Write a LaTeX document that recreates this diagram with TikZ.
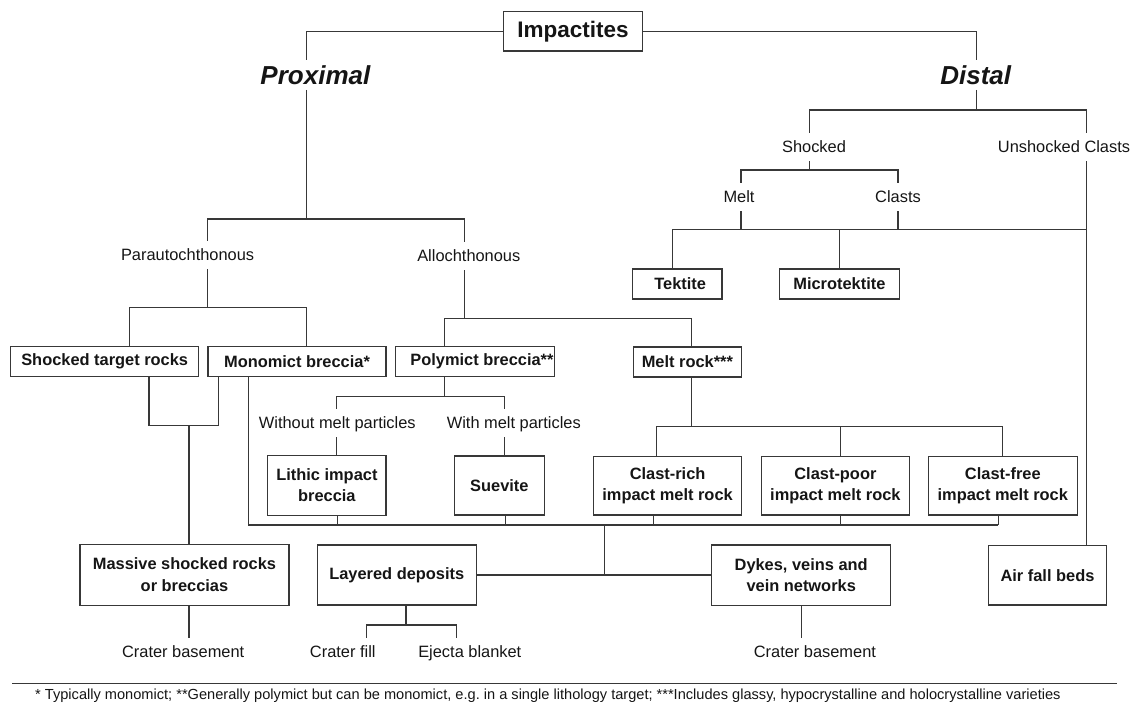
\documentclass[tikz,border=0pt]{standalone}
\usepackage{fontspec}
\setmainfont{Liberation Sans}
\definecolor{ln}{HTML}{383838}
\definecolor{tx}{HTML}{151515}
\begin{document}
\begin{tikzpicture}[x=1pt,y=-1pt,
  box/.style={draw=ln, line width=1.1pt, inner sep=0pt, align=center, text=tx,
    font=\fontsize{16.4}{21.5}\selectfont\bfseries},
  lbl/.style={inner xsep=1pt, inner ysep=8pt, text height=11.8pt, text depth=0pt,
    text=tx, font=\fontsize{16.4}{20}\selectfont},
  big/.style={inner xsep=1pt, inner ysep=5.5pt, text height=18.6pt, text depth=0pt,
    text=tx, font=\fontsize{26}{30}\selectfont\bfseries\itshape},
  link/.style={draw=ln, line width=1.1pt}]
\useasboundingbox (0,0) rectangle (1133,708);

% ---------- boxes ----------
\node[box, minimum width=138.7pt, minimum height=39.3pt, font=\fontsize{22.5}{26}\selectfont\bfseries] (imp) at (572.9,31.4) {Impactites};
\node[box, minimum width=187.6pt, minimum height=30pt] (str) at (104.7,361.7) {Shocked target rocks};
\node[box, minimum width=178pt, minimum height=30pt] (mono) at (297,361.7) {Monomict breccia*};
\node[box, minimum width=158.5pt, minimum height=30pt] (poly) at (475,361.7) {\makebox[157pt][r]{Polymict breccia**}};
\node[box, minimum width=108.5pt, minimum height=30pt] (melt) at (687.4,362) {Melt rock***};
\node[box, minimum width=89.5pt, minimum height=30pt] (tek) at (677.2,284) {\hspace*{6pt}Tektite};
\node[box, minimum width=119.5pt, minimum height=30pt] (micro) at (839.4,284) {Microtektite};
\node[box, minimum width=118.2pt, minimum height=59.5pt] (lith) at (326.9,485.3) {Lithic impact\\breccia};
\node[box, minimum width=89.7pt, minimum height=59pt] (suev) at (499.4,485.5) {Suevite};
\node[box, minimum width=148pt, minimum height=58.3pt] (crich) at (667.6,485.8) {Clast-rich\\impact melt rock};
\node[box, minimum width=148.7pt, minimum height=58.3pt] (cpoor) at (835.4,485.8) {Clast-poor\\impact melt rock};
\node[box, minimum width=148.8pt, minimum height=58.3pt] (cfree) at (1002.8,485.8) {Clast-free\\impact melt rock};
\node[box, minimum width=209pt, minimum height=60.7pt] (mass) at (184.5,574.7) {Massive shocked rocks\\or breccias};
\node[box, minimum width=158.9pt, minimum height=60pt] (layer) at (396.8,575) {Layered deposits};
\node[box, minimum width=179pt, minimum height=60.7pt] (dykes) at (801.2,575.3) {Dykes, veins and\\vein networks};
\node[box, minimum width=118.5pt, minimum height=59.3pt] (air) at (1047.5,575.3) {Air fall beds};

% ---------- labels ----------
\node[big] (prox) at (315.4,75) {Proximal};
\node[big] (dist) at (975.7,75) {Distal};
\node[lbl] (para) at (187.6,255) {Parautochthonous};
\node[lbl] (allo) at (468.8,256) {Allochthonous};
\node[lbl] (shk) at (814,147) {Shocked};
\node[lbl] (unsh) at (1064,147) {Unshocked Clasts};
\node[lbl] (meltl) at (739,197) {Melt};
\node[lbl] (clasts) at (898,197) {Clasts};
\node[lbl] (wo) at (337.3,423) {Without melt particles};
\node[lbl] (wi) at (513.8,423) {With melt particles};
\node[lbl] (cb1) at (183.2,651.7) {Crater basement};
\node[lbl] (cfill) at (342.8,651.7) {Crater fill};
\node[lbl] (ejecta) at (469.8,651.7) {Ejecta blanket};
\node[lbl] (cb2) at (814.9,651.7) {Crater basement};

% ---------- junction coordinates ----------
\coordinate (cP) at (306.4,219);
\coordinate (cPa) at (207.6,219);
\coordinate (cAl) at (464.5,219);
\coordinate (cPa2) at (207.6,307.3);
\coordinate (cS1) at (129.8,307.3);
\coordinate (cM1) at (306.4,307.3);
\coordinate (cAl2) at (464.5,318.3);
\coordinate (cPo1) at (444.5,318.3);
\coordinate (cMe1) at (691.6,318.3);
\coordinate (cPo2) at (444.8,396.3);
\coordinate (cWo) at (336.5,396.3);
\coordinate (cWi) at (504.3,396.3);
\coordinate (cMe2) at (691.6,426.7);
\coordinate (cR1) at (656.8,426.7);
\coordinate (cR2) at (840.6,426.7);
\coordinate (cR3) at (1002.9,426.7);
\coordinate (cS2) at (149,425.8);
\coordinate (cM2) at (218.2,425.8);
\coordinate (cS3) at (189,425.8);
\coordinate (cL0) at (248.3,525);
\coordinate (cL1) at (337.3,525);
\coordinate (cL2) at (505.3,525);
\coordinate (cL3) at (653.2,525);
\coordinate (cL4) at (840.6,525);
\coordinate (cL5) at (998.4,525);
\coordinate (cJ) at (604.6,525);
\coordinate (cD) at (976.6,110);
\coordinate (cSh) at (809.6,110);
\coordinate (cUn) at (1086.5,110);
\coordinate (cSh2) at (809.6,170);
\coordinate (cMl) at (741,170);
\coordinate (cCl) at (898,170);
\coordinate (cMl2) at (741,229.5);
\coordinate (cCl2) at (898,229.5);
\coordinate (cT) at (672.6,229.5);
\coordinate (cMi) at (839.6,229.5);
\coordinate (cU2) at (1086.5,229.5);
\coordinate (cB1) at (189,630);
\coordinate (cLa) at (406,625);
\coordinate (cF) at (366.4,625);
\coordinate (cE) at (456.2,625);
\coordinate (fnL) at (12,683.3);
\coordinate (fnR) at (1116.7,683.3);

% ---------- connectors ----------
\draw[link] (imp.west) -| (cP |- prox.north);
\draw[link] (imp.east) -| (cD |- dist.north);
\draw[link] (cP |- prox.south) -- (cP);
\draw[link] (cPa |- para.north) -- (cPa) -- (cAl) -- (cAl |- allo.north);
\draw[link] (cPa2 |- para.south) -- (cPa2);
\draw[link] (cS1 |- str.north) -- (cS1) -- (cM1) -- (cM1 |- mono.north);
\draw[link] (cAl2 |- allo.south) -- (cAl2);
\draw[link] (cPo1 |- poly.north) -- (cPo1) -- (cMe1) -- (cMe1 |- melt.north);
\draw[link] (cPo2 |- poly.south) -- (cPo2);
\draw[link] (cWo |- wo.north) -- (cWo) -- (cWi) -- (cWi |- wi.north);
\draw[link] (cWo |- wo.south) -- (cWo |- lith.north);
\draw[link] (cWi |- wi.south) -- (cWi |- suev.north);
\draw[link] (cMe2 |- melt.south) -- (cMe2);
\draw[link] (cR1 |- crich.north) -- (cR1) -- (cR3) -- (cR3 |- cfree.north);
\draw[link] (cR2) -- (cR2 |- cpoor.north);
\draw[link] (cS2 |- str.south) -- (cS2) -- (cM2) -- (cM2 |- mono.south);
\draw[link] (cS3) -- (cS3 |- mass.north);
\draw[link] (cL0 |- mono.south) -- (cL0) -- (cL5);
\draw[link] (cL1 |- lith.south) -- (cL1);
\draw[link] (cL2 |- suev.south) -- (cL2);
\draw[link] (cL3 |- crich.south) -- (cL3);
\draw[link] (cL4 |- cpoor.south) -- (cL4);
\draw[link] (cL5 |- cfree.south) -- (cL5);
\draw[link] (cJ) -- (cJ |- layer.east);
\draw[link] (layer.east) -- (layer.east -| dykes.west);
\draw[link] (cD |- dist.south) -- (cD);
\draw[link] (cSh |- shk.north) -- (cSh) -- (cUn) -- (cUn |- unsh.north);
\draw[link] (cUn |- unsh.south) -- (cUn |- air.north);
\draw[link] (cSh |- shk.south) -- (cSh2);
\draw[link] (cMl |- meltl.north) -- (cMl) -- (cCl) -- (cCl |- clasts.north);
\draw[link] (cMl |- meltl.south) -- (cMl2);
\draw[link] (cCl |- clasts.south) -- (cCl2);
\draw[link] (cT |- tek.north) -- (cT) -- (cU2);
\draw[link] (cMi) -- (cMi |- micro.north);
\draw[link] (cB1 |- mass.south) -- (cB1 |- cb1.north);
\draw[link] (cLa |- layer.south) -- (cLa);
\draw[link] (cF |- cfill.north) -- (cF) -- (cE) -- (cE |- ejecta.north);
\draw[link] (dykes.south) -- (dykes.south |- cb2.north);

% ---------- footnote ----------
\draw[link] (fnL) -- (fnR);
\node[anchor=west, inner sep=0pt, text height=10.45pt, text depth=0pt, text=tx,
  font=\fontsize{14.6}{17}\selectfont] (fn) at (35,694.5)
  {* Typically monomict; **Generally polymict but can be monomict, e.g.\ in a single lithology target; ***Includes glassy, hypocrystalline and holocrystalline varieties};
\end{tikzpicture}
\end{document}
